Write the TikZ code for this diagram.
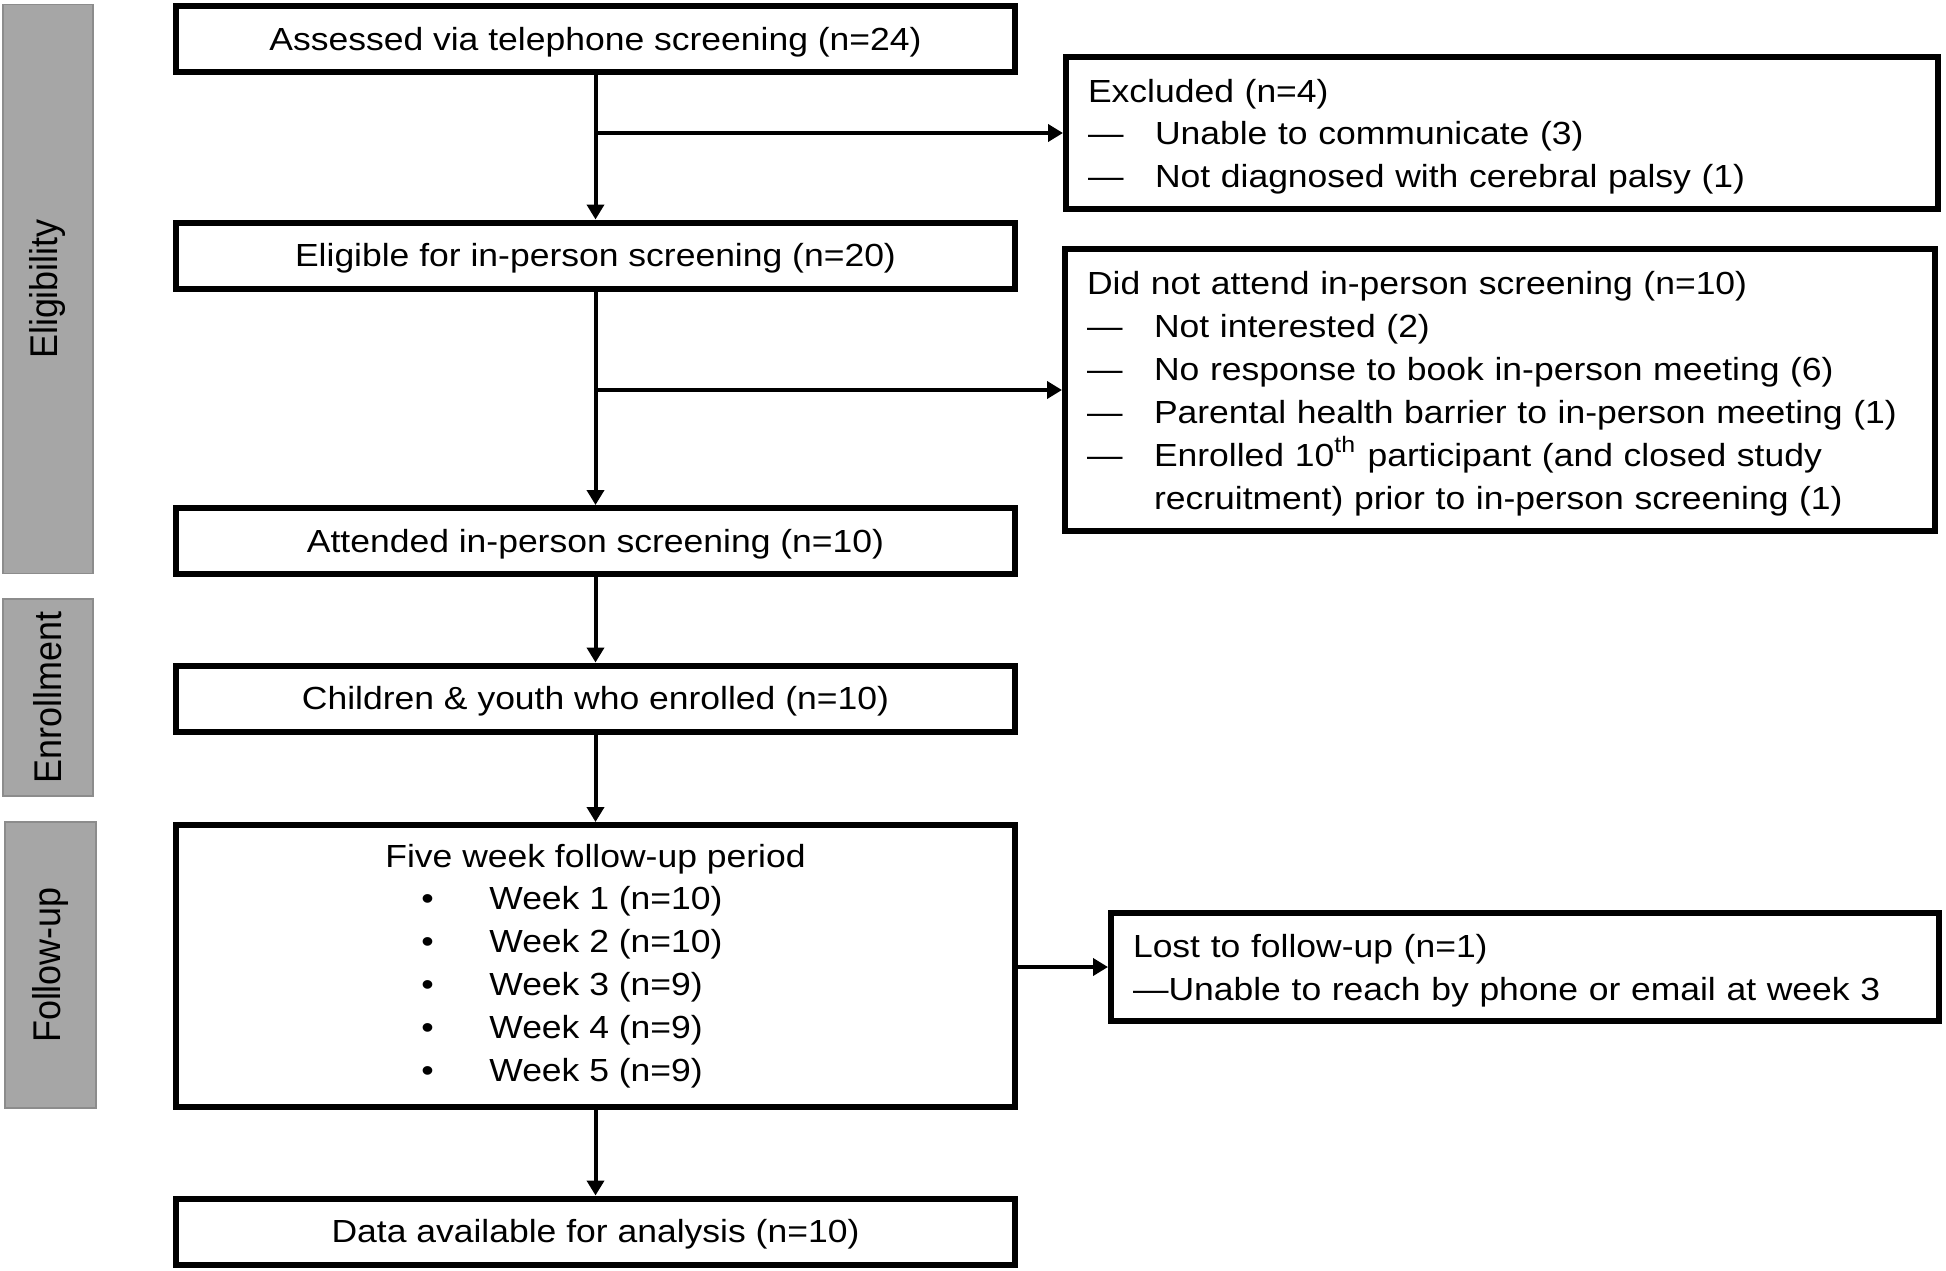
\documentclass[tikz,border=0pt]{standalone}
\usepackage{fontspec}
\setmainfont{Liberation Sans}[FakeStretch=1.11]
\newfontfamily\sidefont{Liberation Sans}[FakeStretch=0.93]
\usetikzlibrary{arrows.meta}
\definecolor{bargray}{HTML}{A6A6A6}
\definecolor{baredge}{HTML}{8C8C8C}
\tikzset{
	mainbox/.style={draw, line width=.06cm, minimum width=8.39cm, minimum height=.66cm, inner sep=0pt, font=\fontsize{9.1}{12.2}\selectfont},
	onebox/.style={mainbox, text height=6.5pt, text depth=0pt},
	listbox/.style={draw, line width=.06cm, align=left, inner xsep=.22cm, inner ysep=0pt, font=\fontsize{9.1}{12.2}\selectfont},
	sidebar/.style={draw=baredge, fill=bargray, line width=.015cm, inner sep=0pt, font=\sidefont\fontsize{11}{13}\selectfont},
	flow/.style={line width=.04cm, -{Triangle[length=.15cm, width=.17cm]}}
}
\newcommand{\dashitem}{\makebox[.67cm][l]{—}}
\newcommand{\weekitem}{\hspace*{.36cm}\makebox[.68cm][l]{\textbullet}}
\newcommand{\topgap}{\rule{0pt}{8.7pt}}
\begin{document}
\begin{tikzpicture}
		\path[fill=white](0, 0) rectangle (19.46, -12.70);

		\node[sidebar, minimum width=.895cm, minimum height=5.69cm] (stageelig) at(.48, -2.89){\rotatebox{90}{Eligibility}};
		\node[sidebar, minimum width=.90cm, minimum height=1.97cm] (stageenrol) at(.48, -6.975){\rotatebox{90}{Enrollment}};
		\node[sidebar, minimum width=.91cm, minimum height=2.86cm] (stagefollow) at(.505, -9.65){\rotatebox{90}{Follow-up}};

		%%%%%%%%%%%%%%%%%%%%%%%%%%%%
		\node[onebox] (assess) at(5.955, -.39){Assessed via telephone screening (n=24)};
		\node[onebox] (eligible) at(5.955, -2.555){Eligible for in-person screening (n=20)};
		\node[onebox] (attend) at(5.955, -5.41){Attended in-person screening (n=10)};
		\node[onebox] (enrol) at(5.955, -6.985){Children \& youth who enrolled (n=10)};
		\node[mainbox, minimum height=2.82cm, align=left] (followup) at(5.955, -9.66){Five week follow-up period\\
			\weekitem Week 1 (n=10)\\
			\weekitem Week 2 (n=10)\\
			\weekitem Week 3 (n=9)\\
			\weekitem Week 4 (n=9)\\
			\weekitem Week 5 (n=9)};
		\node[onebox] (data) at(5.955, -12.315){Data available for analysis (n=10)};

		%%%%%%%%%%%%%%%%%%%%%%%%%%%%
		\node[listbox, text width=8.28cm, minimum height=1.52cm] (excluded) at(15.02, -1.33){\topgap Excluded (n=4)\\
			\dashitem Unable to communicate (3)\\
			\dashitem Not diagnosed with cerebral palsy (1)};
		\node[listbox, text width=8.26cm, minimum height=2.82cm] (noattend) at(15.00, -3.90){\topgap Did not attend in-person screening (n=10)\\
			\dashitem Not interested (2)\\
			\dashitem No response to book in-person meeting (6)\\
			\dashitem Parental health barrier to in-person meeting (1)\\
			\dashitem Enrolled 10\textsuperscript{th} participant (and closed study\\
			\hspace*{.67cm}recruitment) prior to in-person screening (1)};
		\node[listbox, text width=7.84cm, minimum height=1.08cm] (lost) at(15.25, -9.67){\topgap Lost to follow-up (n=1)\\
			—Unable to reach by phone or email at week 3};

		%%%%%%%%%%%%%%%%%%%%%%%%%%%%
		\draw[flow](assess) to (eligible);
		\draw[flow](eligible) to (attend);
		\draw[flow](attend) to (enrol);
		\draw[flow](enrol) to (followup);
		\draw[flow](followup) to (data);

		\coordinate (splitexcl) at(assess.south |- excluded.west);
		\coordinate (splitattend) at(eligible.south |- noattend.west);
		\coordinate (splitlost) at(followup.east |- lost.west);
		\draw[flow](splitexcl) to (excluded.west);
		\draw[flow](splitattend) to (noattend.west);
		\draw[flow](splitlost) to (lost.west);
\end{tikzpicture}
\end{document}
